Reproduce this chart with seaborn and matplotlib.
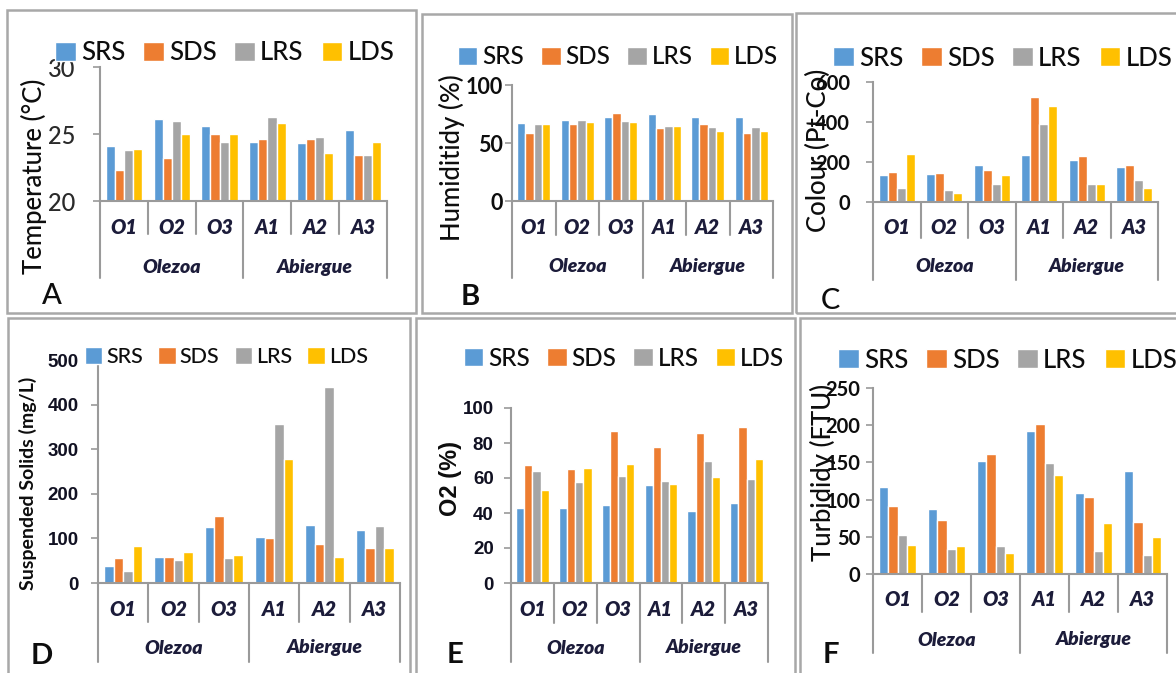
import numpy as np
import pandas as pd
import matplotlib
matplotlib.use("Agg")
import matplotlib.pyplot as plt
import matplotlib.transforms as mtransforms
from matplotlib.patches import Rectangle
import seaborn as sns

# ---- data -----------------------------------------------------------------
sites = ["O1", "O2", "O3", "A1", "A2", "A3"]
rivers = ["Olezoa", "Abiergue"]
series = ["SRS", "SDS", "LRS", "LDS"]
palette = ["#5B9BD5", "#ED7D31", "#A5A5A5", "#FFC000"]

temperature = {
    "SRS": [24.1, 26.1, 25.6, 24.4, 24.3, 25.3],
    "SDS": [22.3, 23.2, 25.0, 24.6, 24.6, 23.4],
    "LRS": [23.8, 26.0, 24.4, 26.3, 24.8, 23.4],
    "LDS": [23.9, 25.0, 25.0, 25.8, 23.6, 24.4],
}
humidity = {
    "SRS": [67.5, 70, 72, 75, 72, 72],
    "SDS": [59, 66, 75.5, 63, 66.5, 59],
    "LRS": [66, 70, 69, 65, 64, 64],
    "LDS": [66, 68, 68, 64.5, 60, 60.5],
}
colour = {
    "SRS": [133, 142, 183, 233, 208, 175],
    "SDS": [150, 145, 158, 525, 228, 187],
    "LRS": [72, 58, 92, 388, 92, 108],
    "LDS": [242, 47, 133, 478, 92, 72],
}
suspended_solids = {
    "SRS": [39, 58, 125, 104, 131, 119],
    "SDS": [57, 58, 150, 101, 87, 78],
    "LRS": [28, 52, 57, 356, 440, 128],
    "LDS": [84, 69, 62, 277, 58, 78],
}
oxygen = {
    "SRS": [43, 43, 44.5, 56, 41, 46],
    "SDS": [67.5, 65, 87, 78, 85.5, 89],
    "LRS": [64, 58, 61, 58.5, 70, 59.5],
    "LDS": [53, 66, 68, 56.5, 60.5, 71],
}
turbidity = {
    "SRS": [117, 88, 152, 192, 109, 139],
    "SDS": [91, 73, 161, 201, 104, 70],
    "LRS": [52, 33.5, 37, 149, 31, 25],
    "LDS": [39, 37.5, 28, 133, 69, 50],
}

# ---- style ------------------------------------------------------------------
sns.set_theme(style="white")
plt.rcParams["font.family"] = ["Lato", "DejaVu Sans"]

W, H = 1176, 673
fig = plt.figure(figsize=(W / 100, H / 100), dpi=100)
fig.patch.set_facecolor("white")

LINE = "#9A9A9A"
NAVY = "#1C1C3A"
INK = "#0D0D0D"

# panel layout in pixels
panels = [
    dict(values=temperature, ylim=(20, 30), yticks=[20, 25, 30],
         ylabel="Temperature (°C)", letter="A",
         axes=(100, 387, 67, 201), box=(7, 416, 10, 313),
         cat_y=228, grp_y=268, inner=234, outer=278,
         leg=(55, 53, 18.5), ylab=(34, 176, 18.5, "medium", "Lato"),
         tick=(17, "medium", "Lato", "#2A2A2A", 13), let=(52, 296, 21, "medium")),
    dict(values=humidity, ylim=(0, 100), yticks=[0, 50, 100],
         ylabel="Humiditidy (%)", letter="B",
         axes=(512, 773, 85, 201), box=(422, 792, 14, 313),
         cat_y=227, grp_y=267, inner=235, outer=278,
         leg=(458, 57, 17.5), ylab=(452, 158, 18.5, "medium", "Lato"),
         tick=(15.5, "bold", "Lato", INK, 1.5), let=(470, 297, 21, "bold")),
    dict(values=colour, ylim=(0, 600), yticks=[0, 200, 400, 600],
         ylabel="Colour (Pt-Co)", letter="C",
         axes=(873, 1158, 82, 202), box=(796, 1185, 13, 313),
         cat_y=228, grp_y=267, inner=238, outer=280,
         leg=(833, 58, 18.5), ylab=(818, 150, 18.5, "medium", "Lato"),
         tick=(14.5, "bold", "Lato", INK, 11.5), let=(830, 301, 21, "medium")),
    dict(values=suspended_solids, ylim=(0, 500), yticks=[0, 100, 200, 300, 400, 500],
         ylabel="Suspended Solids (mg/L)", letter="D",
         axes=(98, 400, 360, 583), box=(8, 410, 318, 700),
         cat_y=610, grp_y=648, inner=622, outer=662,
         leg=(85, 357, 15.5), ylab=(28, 483, 14, "bold", "Lato"),
         tick=(13.5, "bold", "Liberation Sans", "#111122", 9), let=(42, 656, 21, "bold")),
    dict(values=oxygen, ylim=(0, 100), yticks=[0, 20, 40, 60, 80, 100],
         ylabel="O2 (%)", letter="E",
         axes=(511, 768, 408, 583), box=(416, 795, 318, 700),
         cat_y=610, grp_y=648, inner=623, outer=662,
         leg=(464, 358, 17.5), ylab=(450, 479, 17, "bold", "Liberation Sans"),
         tick=(13.5, "bold", "Liberation Sans", "#111122", 7.5), let=(455, 655, 21, "bold")),
    dict(values=turbidity, ylim=(0, 250), yticks=[0, 50, 100, 150, 200, 250],
         ylabel="Turbididy (FTU)", letter="F",
         axes=(873, 1167, 388, 574), box=(800, 1185, 318, 700),
         cat_y=600, grp_y=640, inner=612, outer=653,
         leg=(838, 360, 18.5), ylab=(823, 472, 18.5, "medium", "Lato"),
         tick=(14.5, "bold", "Lato", INK, 4), let=(831, 655, 21, "bold")),
]


def fy(y):
    return 1 - y / H


def fx(x):
    return x / W


for p in panels:
    # grey frame around the panel
    bx0, bx1, by0, by1 = p["box"]
    fig.add_artist(Rectangle((fx(bx0), fy(by1)), fx(bx1 - bx0), (by1 - by0) / H,
                             transform=fig.transFigure, fill=False,
                             edgecolor="#A8A8A8", linewidth=1.8, zorder=0))

    x0, x1, y0, y1 = p["axes"]
    ax = fig.add_axes([fx(x0), fy(y1), fx(x1 - x0), (y1 - y0) / H])

    df = pd.DataFrame({
        "site": np.tile(sites, len(series)),
        "series": np.repeat(series, len(sites)),
        "value": np.concatenate([p["values"][s] for s in series]),
    })
    sns.barplot(data=df, x="site", y="value", hue="series", order=sites,
                hue_order=series, palette=palette, saturation=1, width=0.76,
                errorbar=None, legend=False, ax=ax)

    ax.set_xlim(-0.5, len(sites) - 0.5)
    ax.set_ylim(*p["ylim"])
    ax.set_yticks(p["yticks"])
    ax.set_xlabel("")
    ax.set_ylabel("")
    ax.set_xticks([])
    ax.set_facecolor("none")
    for side in ("top", "right"):
        ax.spines[side].set_visible(False)
    for side in ("left", "bottom"):
        ax.spines[side].set_color(LINE)
        ax.spines[side].set_linewidth(1.5)

    tsize, tweight, tfamily, tcolor, tpad = p["tick"]
    ax.tick_params(axis="y", direction="out", length=5, width=1.2, color=LINE,
                   pad=tpad, left=True)
    for lab in ax.get_yticklabels():
        lab.set_fontsize(tsize)
        lab.set_fontweight(tweight)
        lab.set_family([tfamily, "DejaVu Sans"])
        lab.set_color(tcolor)

    # two-level category axis: site labels and river groups
    tr = mtransforms.blended_transform_factory(ax.transData, fig.transFigure)
    for b in np.arange(-0.5, len(sites), 1.0):
        bottom = p["outer"] if b in (-0.5, 2.5, 5.5) else p["inner"]
        ax.plot([b, b], [fy(y1), fy(bottom)], transform=tr, clip_on=False,
                color=LINE, lw=1.5)
    for i, s in enumerate(sites):
        ax.text(i, fy(p["cat_y"]), s, transform=tr, ha="center", va="center",
                fontsize=14.5, fontweight="heavy", fontstyle="italic", color=NAVY)
    for g, river in enumerate(rivers):
        ax.text(1 + 3 * g, fy(p["grp_y"]), river, transform=tr, ha="center",
                va="center", fontsize=14, fontweight="heavy",
                fontstyle="italic", color=NAVY)

    # legend across the top of the panel
    lx, ly, lsize = p["leg"]
    leg = ax.legend(ax.containers, series, loc="center left",
                    bbox_to_anchor=(fx(lx), fy(ly)), bbox_transform=fig.transFigure,
                    ncol=4, frameon=False, fontsize=lsize, handlelength=0.8,
                    handleheight=0.8, handletextpad=0.2, columnspacing=0.7,
                    borderpad=0, borderaxespad=0)
    for t in leg.get_texts():
        t.set_fontweight("medium")
        t.set_color(INK)

    # axis title and panel letter
    tx, ty, tsz, tw, tf = p["ylab"]
    fig.text(fx(tx), fy(ty), p["ylabel"], rotation=90, ha="center", va="center",
             fontsize=tsz, fontweight=tw, family=[tf, "DejaVu Sans"], color=INK)
    lx2, ly2, lsz, lw_ = p["let"]
    fig.text(fx(lx2), fy(ly2), p["letter"], ha="center", va="center",
             fontsize=lsz, fontweight=lw_, color=INK)

fig.savefig("out.png", dpi=100, facecolor="white")
